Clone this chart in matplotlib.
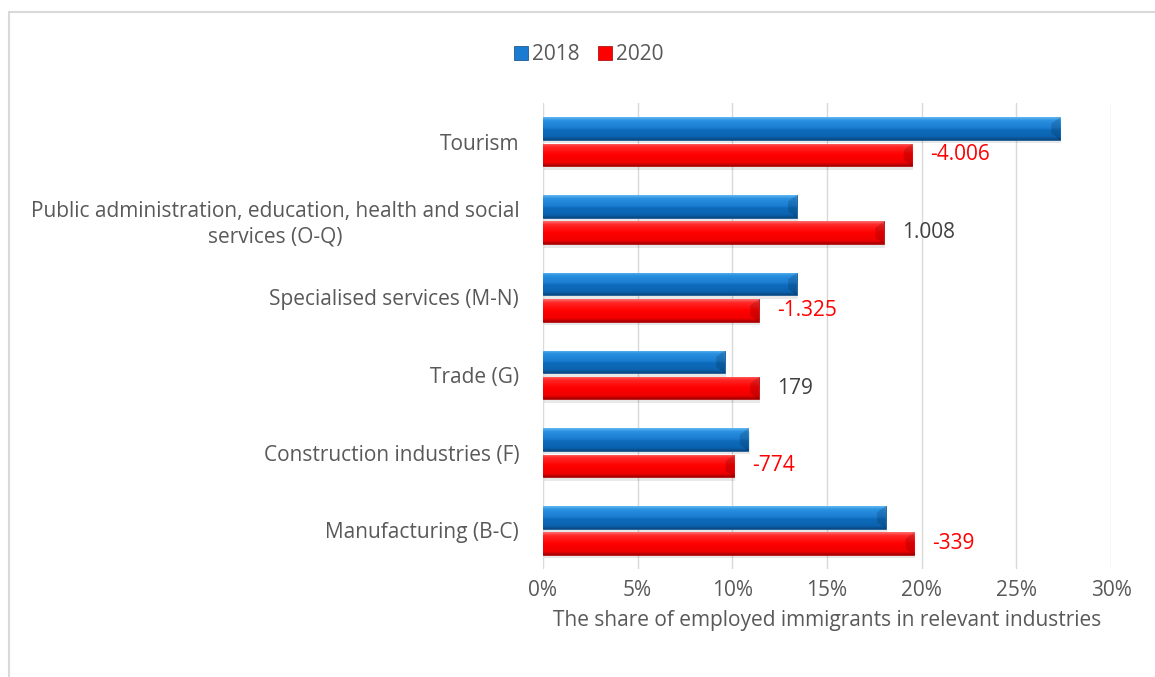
import numpy as np
import matplotlib
matplotlib.use("Agg")
import matplotlib.pyplot as plt
from matplotlib.colors import LinearSegmentedColormap
from matplotlib.patches import Rectangle, Polygon
from matplotlib.ticker import PercentFormatter

plt.rcParams["font.family"] = ["Open Sans", "DejaVu Sans"]

# Industries, top to bottom
industries = [
    "Tourism",
    "Public administration, education, health and social\nservices (O-Q)",
    "Specialised services (M-N)",
    "Trade (G)",
    "Construction industries (F)",
    "Manufacturing (B-C)",
]
share_2018 = [27.3, 13.4, 13.4, 9.6, 10.85, 18.1]
share_2020 = [19.5, 18.0, 11.4, 11.4, 10.1, 19.6]
# change in number of employed immigrants 2018 -> 2020
change_labels = ["-4.006", "1.008", "-1.325", "179", "-774", "-339"]
change_negative = [True, False, True, False, True, True]

TEXT = "#595959"
FS = 15
# bevel shading, from top edge to bottom edge
BLUE_STOPS = [(0.0, "#62b8f2"), (0.14, "#2a90e0"), (0.48, "#1a7cd0"),
              (0.55, "#0e6cbc"), (0.86, "#0b63b0"), (1.0, "#094780")]
RED_STOPS = [(0.0, "#ff7070"), (0.14, "#ff2828"), (0.5, "#ff0000"),
             (0.86, "#f00000"), (1.0, "#a00000")]

fig = plt.figure(figsize=(11.55, 6.77), dpi=100)
ax = fig.add_axes([0.470, 0.159, 0.492, 0.689])

# outer chart frame
fig.patches.append(Rectangle((9 / 1155, -0.05), 1.2, 1.05 - 12 / 677,
                             transform=fig.transFigure, fill=False,
                             edgecolor="#d9d9d9", linewidth=1.5))

y = np.arange(len(industries))
h = 0.29
off = 0.17


def bevel_bars(ypos, values, stops, label):
    bars = ax.barh(ypos, values, height=h, color=stops[2][1], label=label,
                   zorder=3, edgecolor=stops[-1][1], linewidth=0.5)
    cmap = LinearSegmentedColormap.from_list("bev", stops)
    grad = np.linspace(0, 1, 64).reshape(-1, 1)
    for b in bars:
        x0, y0 = b.get_x(), b.get_y()
        w, bh = b.get_width(), b.get_height()
        x1 = x0 + w
        # soft drop shadow below the bar
        ax.add_patch(Rectangle((x0 + 0.06, y0 + 0.045), w, bh, facecolor="#000000",
                               alpha=0.09, linewidth=0, zorder=2))
        im = ax.imshow(grad, cmap=cmap, aspect="auto", origin="upper",
                       extent=(x0, x1, y0 + bh, y0), zorder=3.5,
                       interpolation="bicubic")
        im.set_clip_path(b)
        # bevelled right end
        d, e = 0.45, bh * 0.28
        ax.add_patch(Polygon([(x1 - d, y0 + e), (x1, y0), (x1, y0 + bh),
                              (x1 - d, y0 + bh - e)], closed=True,
                             facecolor="#000000", alpha=0.14, linewidth=0, zorder=3.6))
    return bars


bevel_bars(y - off, share_2018, BLUE_STOPS, "2018")
red = bevel_bars(y + off, share_2020, RED_STOPS, "2020")

for b, txt, neg in zip(red, change_labels, change_negative):
    ax.annotate(txt, (b.get_width(), b.get_y() + b.get_height() / 2),
                xytext=(13, 0), textcoords="offset points", va="center",
                ha="left", fontsize=FS, color="#ff0000" if neg else "#404040",
                zorder=5)

ax.set_xlim(0, 30)
ax.set_ylim(len(industries) - 0.5, -0.5)
ax.set_xticks(np.arange(0, 31, 5))
ax.xaxis.set_major_formatter(PercentFormatter(decimals=0))
ax.set_yticks(y)
ax.set_yticklabels(industries, ha="right", multialignment="center",
                   linespacing=1.3)
ax.tick_params(axis="y", pad=17, length=0, labelsize=FS, labelcolor=TEXT)
ax.tick_params(axis="x", length=0, labelsize=FS, labelcolor=TEXT, pad=8)
ax.grid(axis="x", color="#d9d9d9", linewidth=1, zorder=0)
ax.set_axisbelow(True)
for s in ax.spines.values():
    s.set_visible(False)
ax.set_xlabel("The share of employed immigrants in relevant industries",
              fontsize=FS, color=TEXT, labelpad=6)

leg = fig.legend(loc="upper center", bbox_to_anchor=(0.51, 0.962), ncol=2,
                 frameon=False, fontsize=FS, handlelength=0.65, handleheight=0.65,
                 handletextpad=0.2, columnspacing=0.9)
for t in leg.get_texts():
    t.set_color(TEXT)

fig.savefig("out.png", dpi=100)
